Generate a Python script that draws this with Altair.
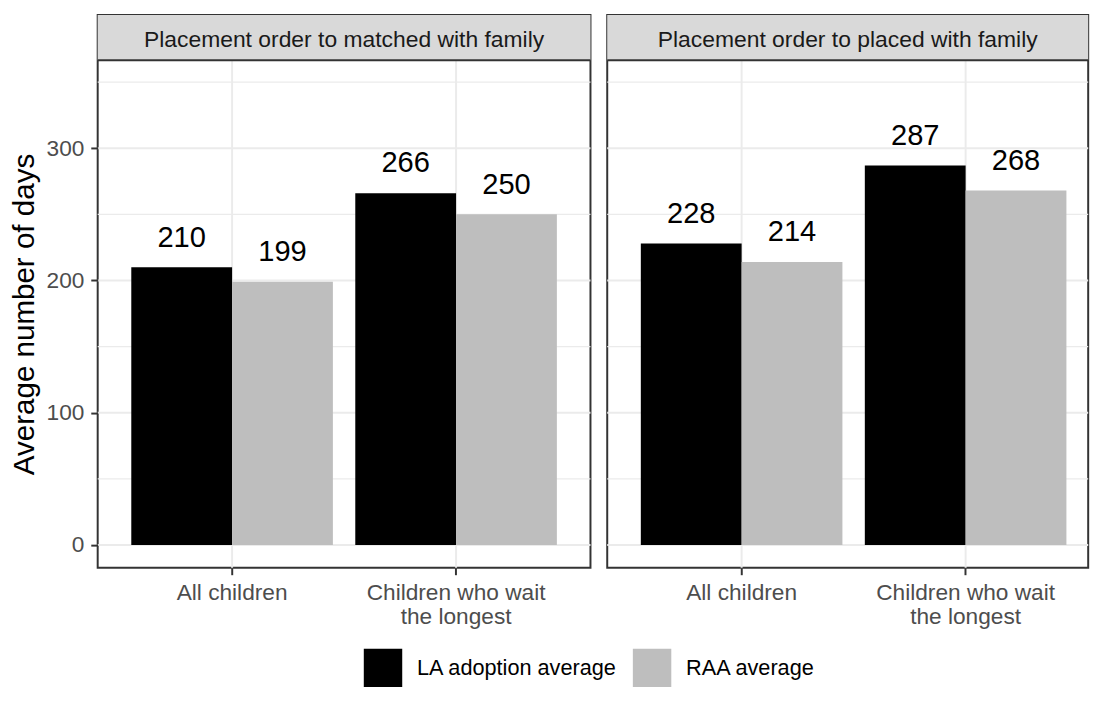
import altair as alt
import pandas as pd

measures = ["Placement order to matched with family", "Placement order to placed with family"]
groups = ["All children", "Children who wait\nthe longest"]
series = ["LA adoption average", "RAA average"]
la_values = [210, 266, 228, 287]
raa_values = [199, 250, 214, 268]
y_ticks = [0, 100, 200, 300]
y_grid = [0, 50, 100, 150, 200, 250, 300, 350]
colors = ["#000000", "#BEBEBE"]

rows = []
for mi, m in enumerate(measures):
    for gi, g in enumerate(groups):
        rows.append({"measure": m, "group": g, "series": series[0], "value": la_values[mi * 2 + gi]})
        rows.append({"measure": m, "group": g, "series": series[1], "value": raa_values[mi * 2 + gi]})
df = pd.DataFrame(rows)
strip_df = pd.DataFrame({"measure": measures})
hgrid_df = pd.DataFrame({"value": y_grid})
vgrid_df = pd.DataFrame({"group": groups})

FONT = "Liberation Sans"
PANEL_H = 515
STRIP_H = 46
Y_LOW, Y_HIGH = -17.3, 366.5
Y_TOP = Y_HIGH + STRIP_H * (Y_HIGH - Y_LOW) / PANEL_H
GRID = "#EBEBEB"
DARK = "#333333"
MAJOR = "datum.value % 100 == 0"


def panel(measure, width, show_y):
    yscale = alt.Scale(domain=[Y_LOW, Y_TOP], nice=False, zero=False)
    if show_y:
        yaxis = alt.Axis(values=y_ticks, orient="left", title="Average number of days",
                         titleFontSize=30, titleColor="black", titleFontWeight="normal",
                         titlePadding=6.5, titleY=STRIP_H + PANEL_H / 2,
                         labels=True, labelFontSize=23, labelColor="#4D4D4D", labelPadding=7,
                         ticks=True, tickSize=7, tickWidth=2, tickColor=DARK,
                         domain=False, grid=False, zindex=1)
    else:
        yaxis = None
    xaxis = alt.Axis(title=None, orient="bottom", labelAngle=0, labelFontSize=23,
                     labelColor="#4D4D4D", labelPadding=7, labelLineHeight=24.5,
                     labelLimit=400, labelExpr="split(datum.label, '\\n')",
                     ticks=True, tickSize=7, tickWidth=2, tickColor=DARK, domain=False,
                     grid=False, bandPosition=0.5, zindex=1)
    xscale = alt.Scale(domain=groups, paddingInner=0.1, paddingOuter=0.15, range=[0, 500])
    X = alt.X("group:N", sort=groups, scale=xscale, axis=xaxis)
    XG = alt.X("group:N", sort=groups, scale=xscale, axis=xaxis, bandPosition=0.5)
    XO = alt.XOffset("series:N", sort=series, scale=alt.Scale(paddingInner=0, paddingOuter=0))
    Y = alt.Y("value:Q", scale=yscale, axis=yaxis)

    hgrid = alt.Chart(hgrid_df).mark_rule(color=GRID).encode(
        y=Y, strokeWidth=alt.condition(MAJOR, alt.value(2), alt.value(1.2)))
    vgrid = alt.Chart(vgrid_df).mark_rule(color=GRID, strokeWidth=2).encode(x=XG)

    base = alt.Chart(df).transform_filter(alt.datum.measure == measure)
    bars = base.mark_bar().encode(
        x=X, xOffset=XO, y=Y, y2=alt.datum(0),
        fill=alt.Fill("series:N", sort=series,
                      scale=alt.Scale(domain=series, range=colors),
                      legend=alt.Legend(orient="none", legendX=270, legendY=643,
                                        direction="horizontal", title=None,
                                        symbolType="square", symbolSize=1521,
                                        symbolStrokeWidth=0, labelFontSize=22,
                                        labelColor="black", labelOffset=15, labelLimit=0,
                                        columnPadding=15, padding=0)))
    text = base.mark_text(fontSize=29.5, color="black", baseline="alphabetic", dy=-21).encode(
        x=X, xOffset=XO, y=Y, text="value:Q")

    sbase = alt.Chart(strip_df).transform_filter(alt.datum.measure == measure)
    strip_bg = sbase.mark_rect(fill="#D9D9D9").encode(
        x=alt.value(0), x2=alt.value(width), y=alt.value(0), y2=alt.value(STRIP_H))
    strip_line = sbase.mark_rule(color=DARK, strokeWidth=2).encode(y=alt.value(STRIP_H))
    strip_text = sbase.mark_text(fontSize=23.2, color="#1A1A1A", baseline="middle", dy=2.5).encode(
        text="measure:N", y=alt.value(STRIP_H / 2))

    return alt.layer(hgrid, vgrid, bars, text, strip_bg, strip_line, strip_text).properties(
        width=width, height=PANEL_H + STRIP_H)


left = panel(measures[0], 500, True)
right = panel(measures[1], 488, False)

chart = alt.hconcat(left, right, spacing=13).resolve_scale(
    x="independent", y="independent", xOffset="independent").properties(
    padding={"left": 1, "top": 0, "right": 0, "bottom": 0}).configure(
    font=FONT).configure_view(stroke=DARK, strokeWidth=2)

chart.save("out.html", embed_options={"renderer": "svg", "actions": False})
